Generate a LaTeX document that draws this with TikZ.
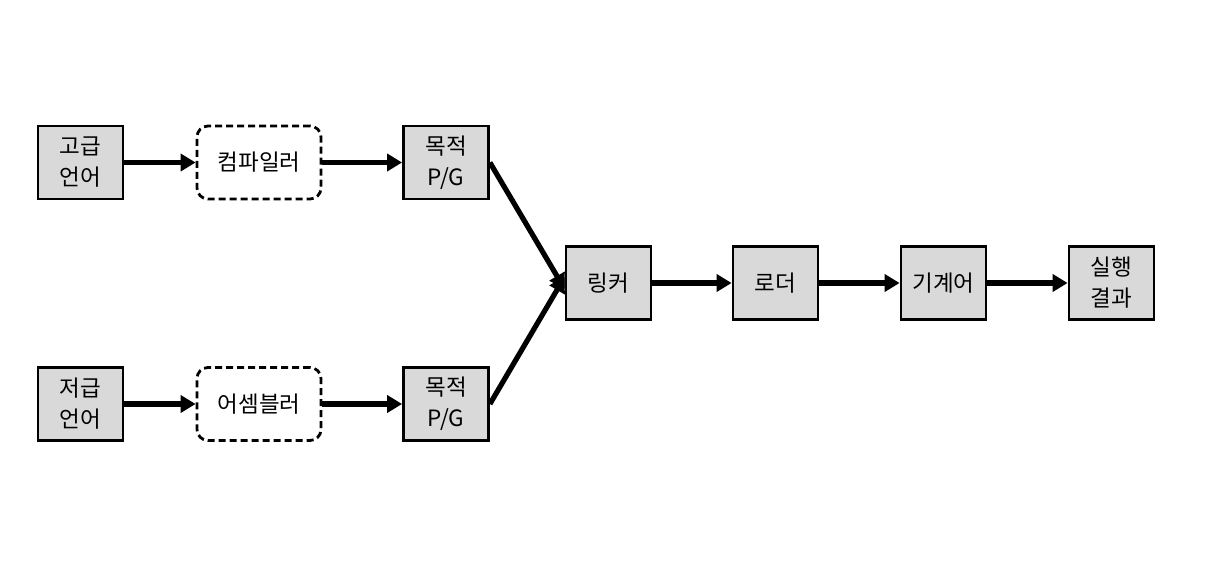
\documentclass[tikz,border=0pt]{standalone}
\usepackage{fontspec}
\setmainfont{Noto Sans CJK KR}
\usetikzlibrary{arrows.meta}
\definecolor{boxgray}{HTML}{D9D9D9}
\begin{document}
\begin{tikzpicture}[x=1pt,y=-1pt,
  box/.style={draw=black, line width=2.8pt, fill=boxgray, minimum width=85pt, minimum height=73pt, inner sep=0pt, align=center, font=\fontsize{22.5}{31}\selectfont},
  proc/.style={draw=black, line width=2.8pt, dashed, dash pattern=on 7pt off 4pt, rounded corners=11pt, fill=white, minimum width=124pt, minimum height=73pt, inner sep=0pt, align=center, font=\fontsize{22.5}{31}\selectfont},
  arr/.style={line width=5.2pt, -{Triangle[length=15pt,width=17pt]}}]
\useasboundingbox (0,0) rectangle (1211,566);
\node[box] (hl) at (80.5,162.5) {고급\\언어};
\node[proc] (comp) at (259,162.5) {컴파일러};
\node[box] (obj1) at (446,162.5) {목적\\P/G};
\node[box] (ll) at (80.5,404) {저급\\언어};
\node[proc] (asm) at (259,404) {어셈블러};
\node[box] (obj2) at (446,404) {목적\\P/G};
\node[box] (link) at (608.5,283) {링커};
\node[box] (load) at (775.5,283) {로더};
\node[box] (mach) at (943.5,283) {기계어};
\node[box] (res) at (1111.5,283) {실행\\결과};
\draw[arr] (hl) -- (comp);
\draw[arr] (comp) -- (obj1);
\draw[arr] (ll) -- (asm);
\draw[arr] (asm) -- (obj2);
\draw[arr] (obj1.east) -- ([yshift=-6pt]link.west);
\draw[arr] (obj2.east) -- ([yshift=6pt]link.west);
\draw[arr] (link) -- (load);
\draw[arr] (load) -- (mach);
\draw[arr] (mach) -- (res);
\end{tikzpicture}
\end{document}
